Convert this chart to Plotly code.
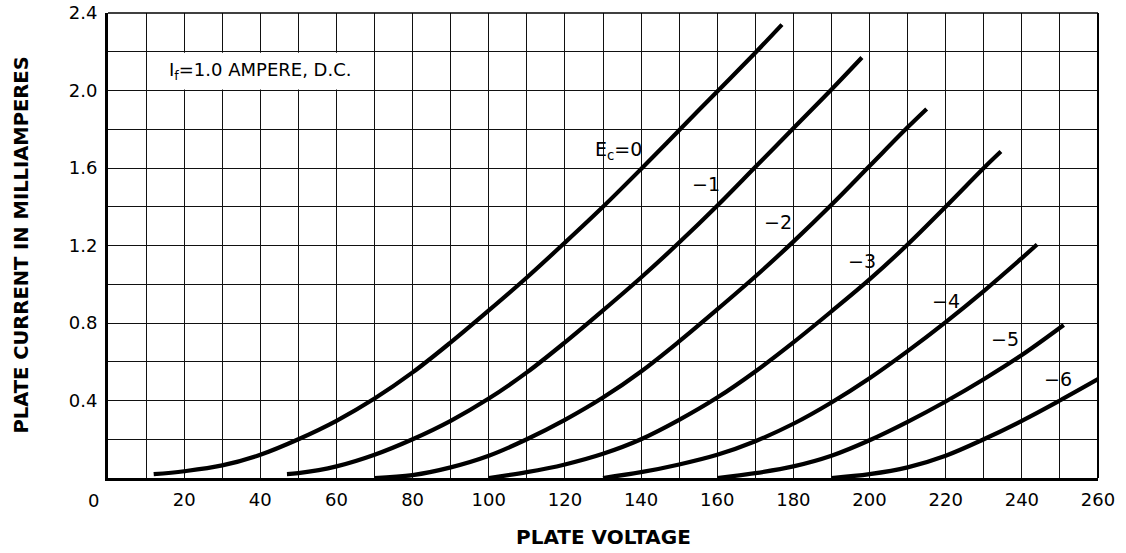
import plotly.graph_objects as go

# ---- data ----
E0_v = [12, 20, 30, 40, 50, 60, 70, 80, 90, 100, 110, 120, 130, 140, 150, 160, 170, 177]
E0_i = [0.02, 0.035, 0.065, 0.12, 0.20, 0.295, 0.41, 0.545, 0.70, 0.865, 1.035, 1.215, 1.40, 1.595, 1.795, 1.995, 2.195, 2.34]
E1_v = [47, 50, 60, 70, 80, 90, 100, 110, 120, 130, 140, 150, 160, 170, 180, 190, 198]
E1_i = [0.02, 0.025, 0.06, 0.12, 0.20, 0.295, 0.41, 0.545, 0.70, 0.865, 1.035, 1.215, 1.405, 1.605, 1.805, 2.005, 2.17]
E2_v = [70, 80, 90, 100, 110, 120, 130, 140, 150, 160, 170, 180, 190, 200, 210, 215]
E2_i = [0.00, 0.015, 0.055, 0.115, 0.20, 0.30, 0.415, 0.55, 0.705, 0.87, 1.04, 1.22, 1.41, 1.61, 1.81, 1.905]
E3_v = [100, 110, 120, 130, 140, 150, 160, 170, 180, 190, 200, 210, 220, 230, 234.5]
E3_i = [0.00, 0.03, 0.07, 0.125, 0.20, 0.30, 0.415, 0.55, 0.70, 0.86, 1.025, 1.205, 1.40, 1.60, 1.685]
E4_v = [130, 140, 150, 160, 170, 180, 190, 200, 210, 220, 230, 240, 244]
E4_i = [0.00, 0.03, 0.07, 0.12, 0.19, 0.28, 0.39, 0.515, 0.655, 0.805, 0.965, 1.135, 1.205]
E5_v = [160, 170, 180, 190, 200, 210, 220, 230, 240, 251]
E5_i = [0.00, 0.025, 0.06, 0.115, 0.195, 0.29, 0.395, 0.51, 0.635, 0.79]
E6_v = [190, 200, 210, 220, 230, 240, 250, 260]
E6_i = [0.00, 0.02, 0.055, 0.115, 0.20, 0.295, 0.40, 0.51]

series_v = [E0_v, E1_v, E2_v, E3_v, E4_v, E5_v, E6_v]
series_i = [E0_i, E1_i, E2_i, E3_i, E4_i, E5_i, E6_i]
curve_labels = ["E<sub>c</sub>=0", "\u22121", "\u22122", "\u22123", "\u22124", "\u22125", "\u22126"]

x_ticks = [20, 40, 60, 80, 100, 120, 140, 160, 180, 200, 220, 240, 260]
y_ticks = [0.4, 0.8, 1.2, 1.6, 2.0, 2.4]
y_tick_text = ["0.4", "0.8", "1.2", "1.6", "2.0", "2.4"]
origin_label = "0"
x_title = "PLATE VOLTAGE"
y_title = "PLATE CURRENT IN MILLIAMPERES"
note = "I<sub>f</sub>=1.0 AMPERE, D.C."

# ---- layout constants ----
FONT = "DejaVu Sans"
W, H = 1126, 553
ML, MR, MT, MB = 108, 28, 13, 75
PW, PH = W - ML - MR, H - MT - MB
label_pos = [(127.5, 1.69, "left"), (157, 1.515, "center"), (176, 1.32, "center"),
             (198, 1.12, "center"), (220, 0.915, "center"), (235.5, 0.72, "center"),
             (249.5, 0.51, "center")]

fig = go.Figure()
for v, i in zip(series_v, series_i):
    fig.add_trace(go.Scatter(x=v, y=i, mode="lines",
                             line=dict(color="black", width=4.2, shape="spline", smoothing=1.0),
                             showlegend=False, hoverinfo="skip"))

annotations = []
for txt, (lx, ly, anc) in zip(curve_labels, label_pos):
    annotations.append(dict(x=lx, y=ly, xref="x", yref="y", text=txt, showarrow=False,
                            xanchor=anc, yanchor="middle", font=dict(family=FONT, size=19, color="black")))
annotations.append(dict(x=40, y=2.1, xref="x", yref="y", text=note, showarrow=False,
                        xanchor="center", yanchor="middle", font=dict(family=FONT, size=18, color="black")))
annotations.append(dict(x=-15 / PW, y=-22 / PH, xref="paper", yref="paper", text=origin_label, showarrow=False,
                        xanchor="center", yanchor="middle", font=dict(family=FONT, size=18, color="black")))
annotations.append(dict(x=0.5, y=-59 / PH, xref="paper", yref="paper", text=x_title, showarrow=False,
                        xanchor="center", yanchor="middle",
                        font=dict(family=FONT, size=20, color="black", weight=700)))
annotations.append(dict(x=-87 / PW, y=0.5, xref="paper", yref="paper", text=y_title, showarrow=False,
                        textangle=-90, xanchor="center", yanchor="middle",
                        font=dict(family=FONT, size=19.5, color="black", weight=700)))

shapes = [
    dict(type="rect", xref="x", yref="y", x0=10.5, x1=69.6, y0=2.005, y1=2.195,
         fillcolor="white", line=dict(width=0), layer="between"),
    dict(type="line", xref="paper", yref="paper", x0=1, x1=1, y0=0, y1=1, line=dict(color="black", width=2)),
    dict(type="line", xref="paper", yref="paper", x0=0, x1=1, y0=1, y1=1, line=dict(color="black", width=1.3)),
]

grid_col = "#111111"
fig.update_layout(
    width=W, height=H, margin=dict(l=ML, r=MR, t=MT, b=MB, autoexpand=False),
    paper_bgcolor="white", plot_bgcolor="white",
    font=dict(family=FONT, size=18, color="black"),
    annotations=annotations, shapes=shapes,
    xaxis=dict(range=[0, 260], tickvals=x_ticks, ticktext=[str(t) for t in x_ticks],
               showgrid=True, gridcolor=grid_col, gridwidth=1.4,
               minor=dict(tickvals=list(range(10, 260, 20)), showgrid=True, gridcolor=grid_col, gridwidth=1.4),
               showline=True, linecolor="black", linewidth=3, zeroline=False, ticks="",
               automargin=False, ticklabelstandoff=3, tickfont=dict(family=FONT, size=18)),
    yaxis=dict(range=[0, 2.4], tickvals=y_ticks, ticktext=y_tick_text,
               showgrid=True, gridcolor=grid_col, gridwidth=1.4,
               minor=dict(tickvals=[0.2, 0.6, 1.0, 1.4, 1.8, 2.2], showgrid=True, gridcolor=grid_col, gridwidth=1.4),
               showline=True, linecolor="black", linewidth=3, zeroline=False, ticks="",
               automargin=False, ticklabelstandoff=4, tickfont=dict(family=FONT, size=18)),
)

fig.write_html("out.html", config={"displayModeBar": False},
               post_script="document.body.style.margin='0';")
